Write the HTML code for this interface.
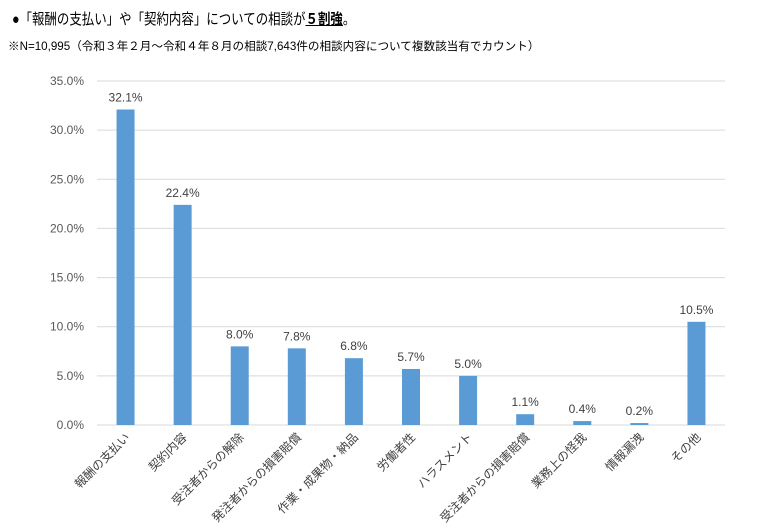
<!DOCTYPE html>
<html><head><meta charset="utf-8"><style>
body{margin:0;background:#fff;width:758px;height:531px;overflow:hidden;font-family:"Liberation Sans","Noto Sans CJK JP",sans-serif}
#t{position:absolute;left:12px;top:8px;font-size:15px;color:#000;white-space:nowrap;transform-origin:0 0;transform:scaleX(0.83)}
#s{position:absolute;left:8px;top:38px;font-size:11.6px;color:#000;white-space:nowrap}
</style></head><body>
<div id="t">●「報酬の支払い」や「契約内容」についての相談が<b style="text-decoration:underline">５割強</b>。</div>
<div id="s">※N=10,995（令和３年２月～令和４年８月の相談7,643件の相談内容について複数該当有でカウント）</div>
<svg id="c" width="758" height="531" style="position:absolute;left:0;top:0"></svg>
<script>
const categories=["報酬の支払い","契約内容","受注者からの解除","発注者からの損害賠償","作業・成果物・納品","労働者性","ハラスメント","受注者からの損害賠償","業務上の怪我","情報漏洩","その他"];
const values=[32.1,22.4,8.0,7.8,6.8,5.7,5.0,1.1,0.4,0.2,10.5];
const ticks=[0,5,10,15,20,25,30,35];
const NS="http://www.w3.org/2000/svg";
const svg=document.getElementById('c');
const x0=97,x1=725,yB=425,yT=81,vMax=35;
const y=v=>yB-(v/vMax)*(yB-yT);
const step=(x1-x0)/categories.length;
const xc=i=>x0+step*(i+0.5);
function mk(tag,a,txt){const e=document.createElementNS(NS,tag);for(const k in a)e.setAttribute(k,a[k]);if(txt!=null)e.textContent=txt;svg.appendChild(e);return e;}
ticks.forEach(t=>{
 if(t>0){const g=mk('line',{x1:x0,x2:x1,y1:y(t),y2:y(t),stroke:'#d9d9d9','stroke-width':1});
 
 }
 const l=mk('text',{x:84,y:y(t)+4,'text-anchor':'end','font-size':12,fill:'#595959'},t.toFixed(1)+'%');
 
 
});
const ax=mk('line',{x1:x0,x2:x1,y1:yB,y2:yB,stroke:'#d9d9d9','stroke-width':1});


values.forEach((v,i)=>{
 const bw=18;
 const r=mk('rect',{x:xc(i)-bw/2,y:y(v),width:bw,height:yB-y(v),fill:'#5b9bd5'});
 
 
 const t=mk('text',{x:xc(i),y:y(v)-8,'text-anchor':'middle','font-size':12,fill:'#404040'},v.toFixed(1)+'%');
 
 
 const cx=xc(i)+5,cy=438;
 const c=mk('text',{x:cx,y:cy,'text-anchor':'end','font-size':12,fill:'#404040',transform:`rotate(-45 ${cx} ${cy})`},categories[i]);
 
 
});
</script>
</body></html>
